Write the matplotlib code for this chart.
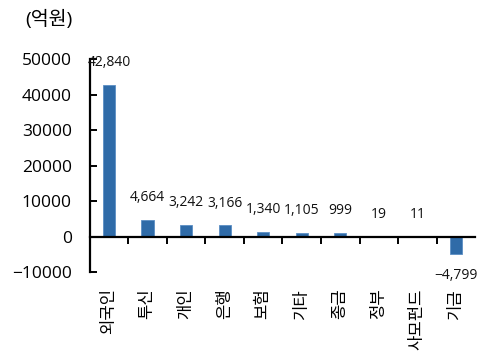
import numpy as np
import matplotlib as mpl
from matplotlib import pyplot as plt
mpl.rcParams['font.family'] = ['Open Sans', 'Noto Sans CJK KR', 'DejaVu Sans']
mpl.rcParams['axes.unicode_minus'] = True

# 투자자별 순매수 (억원)
investors = ['외국인', '투신', '개인', '은행', '보험', '기타', '종금', '정부', '사모펀드', '기금']
amounts = [42840, 4664, 3242, 3166, 1340, 1105, 999, 19, 11, -4799]
yticks = [-10000, 0, 10000, 20000, 30000, 40000, 50000]

fig = plt.figure(figsize=(4.78, 3.52), dpi=100)
ax = fig.add_axes([0.188, 0.227, 0.806, 0.604])

x = np.arange(len(investors))
bars = ax.bar(x, amounts, width=0.32, color='#2F6BA8', edgecolor='#5B8EC4', linewidth=0.6, zorder=2)

# 막대 위/아래 값 표시
for xi, v in zip(x, amounts):
    off = 16 if v >= 0 else -16
    txt = f'{v:,}'.replace('-', '\u2212')
    ax.annotate(txt, (xi, v), xytext=(0, off), textcoords='offset points',
                ha='center', va='center', fontsize=10, color='#111111')

ax.set_xlim(-0.5, len(investors) - 0.5)
ax.set_ylim(-10000, 50000)
ax.set_yticks(yticks)
ax.set_yticklabels([str(t).replace('-', '\u2212') for t in yticks])

ax.spines['top'].set_visible(False)
ax.spines['right'].set_visible(False)
ax.spines['bottom'].set_position(('data', 0))
ax.spines['left'].set_linewidth(1.6)
ax.spines['bottom'].set_linewidth(1.6)

ax.tick_params(axis='y', direction='in', length=5, width=1.4, pad=13, labelsize=12.5)
ax.set_xticks(x)
ax.set_xticklabels(investors, rotation=90, fontsize=12)
ax.tick_params(axis='x', which='major', length=0, pad=37)
ax.set_xticks(x[:-1] + 0.5, minor=True)
ax.tick_params(axis='x', which='minor', direction='out', length=5, width=1.4)

fig.text(0.052, 0.945, '(억원)', fontsize=14, ha='left', va='center')

fig.savefig('out.png', dpi=100)
